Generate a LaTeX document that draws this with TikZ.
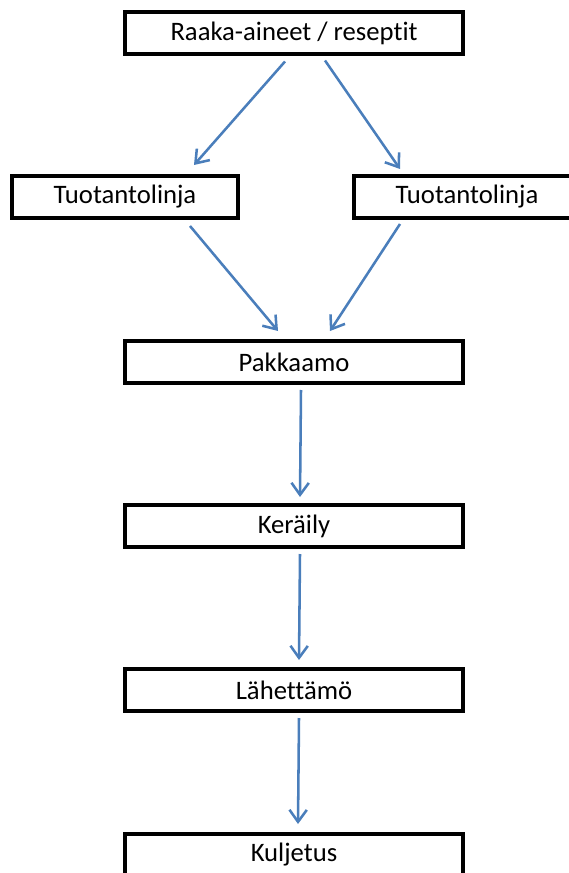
\documentclass[tikz,border=0pt]{standalone}
\usepackage{fontspec}
\setmainfont{Carlito}[Ligatures=NoCommon]
\usetikzlibrary{arrows.meta,calc}
\definecolor{flowblue}{RGB}{74,126,187}
\tikzset{every picture/.style={line width=0.75pt}}

\begin{document}
\begin{tikzpicture}[x=0.75pt,y=0.75pt,yscale=-1,xscale=1,
    stagebox/.style={draw, line width=3pt, minimum width=253.5pt, minimum height=31.5pt, inner sep=0pt, font=\fontsize{20}{24}\selectfont},
    linebox/.style={stagebox, minimum width=169.5pt},
    flow/.style={draw=flowblue, line width=1.9pt, -{Straight Barb[length=9pt,width=13pt,line width=1.9pt]}}]
        \useasboundingbox (0,0) rectangle (568,873); %set diagram size to 568 x 873

        % Text Node
        \node [stagebox] (raaka) at (294,33.5) {Raaka-aineet / reseptit};
        % Text Node
        \node [linebox] (linja1) at (125,197) {Tuotantolinja};
        % Text Node
        \node [linebox] (linja2) at (467,197) {Tuotantolinja};
        % Text Node
        \node [stagebox] (pakkaamo) at (294,362) {Pakkaamo};
        % Text Node
        \node [stagebox] (keraily) at (294,526) {Keräily};
        % Text Node
        \node [stagebox] (lahettamo) at (294,690) {Lähettämö};
        % Text Node
        \node [stagebox] (kuljetus) at (294,855) {Kuljetus};

        %Straight Lines
        \draw [flow] ($(raaka.south)+(-9,5)$) -- ($(linja1.north)+(69,-9)$);
        \draw [flow] ($(raaka.south)+(31,4)$) -- ($(linja2.north)+(-67,-5)$);
        \draw [flow] ($(linja1.south)+(65,6)$) -- ($(pakkaamo.north)+(-16,-8)$);
        \draw [flow] ($(linja2.south)+(-67,4)$) -- ($(pakkaamo.north)+(36,-8)$);
        \draw [flow] ($(pakkaamo.south)+(7,5)$) -- ($(keraily.north)+(6,-6)$);
        \draw [flow] ($(keraily.south)+(6,5)$) -- ($(lahettamo.north)+(5,-7)$);
        \draw [flow] ($(lahettamo.south)+(5,5)$) -- ($(kuljetus.north)+(4,-8)$);

\end{tikzpicture}
\end{document}
